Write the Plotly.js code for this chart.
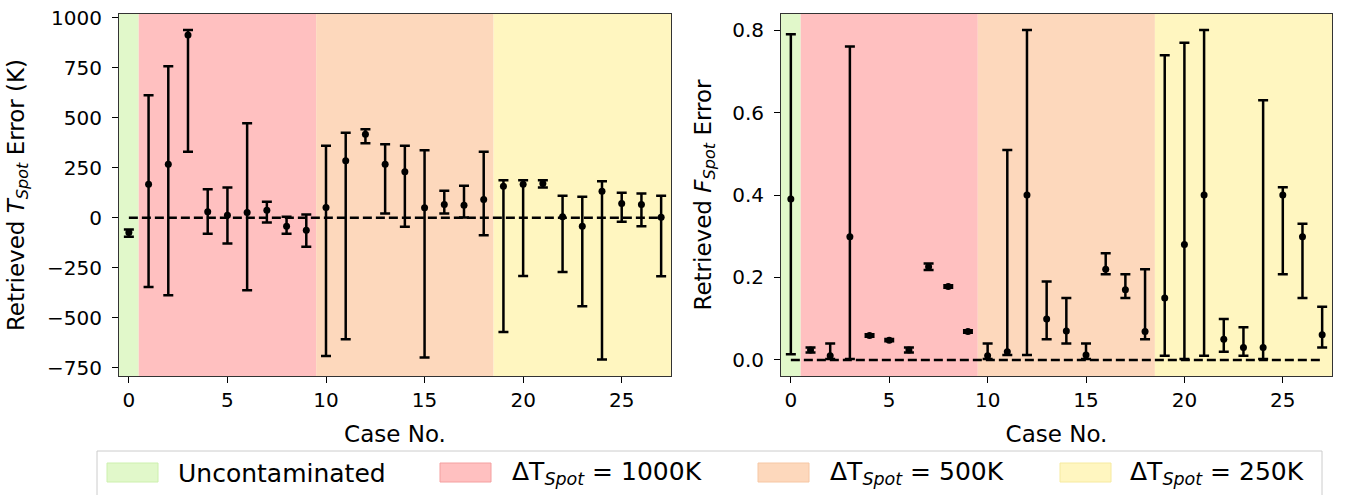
<!DOCTYPE html>
<html><head><meta charset="utf-8">
<script src="https://cdn.plot.ly/plotly-3.0.1.min.js"></script>
<style>html,body{margin:0;padding:0;background:#fff}</style>
</head><body>
<div id="chart" style="width:1345px;height:495px"></div>
<script>
// ---------- data ----------
const caseNo = [0,1,2,3,4,5,6,7,8,9,10,11,12,13,14,15,16,17,18,19,20,21,22,23,24,25,26,27];

// Retrieved T_Spot error (K): median and upper/lower bounds
const tSpotErr   = [-73, 168, 268, 913, 30, 13, 27, 38, -42, -62, 52, 285, 417, 267, 230, 50, 67, 63, 92, 158, 168, 172, 5, -42, 133, 72, 67, 3];
const tSpotUpper = [-58, 612, 757, 938, 143, 152, 472, 80, 5, 17, 360, 425, 442, 367, 360, 338, 135, 160, 330, 188, 188, 188, 110, 105, 183, 125, 122, 110];
const tSpotLower = [-95, -345, -387, 330, -80, -128, -362, -23, -80, -145, -690, -607, 372, 22, -45, -698, 22, 2, -87, -570, -290, 152, -270, -442, -708, -20, -42, -292];

// Retrieved F_Spot error: median and upper/lower bounds
const fSpotErr   = [0.390, 0.024, 0.010, 0.299, 0.059, 0.048, 0.024, 0.226, 0.178, 0.069, 0.010, 0.020, 0.400, 0.099, 0.070, 0.012, 0.220, 0.170, 0.069, 0.150, 0.280, 0.400, 0.050, 0.030, 0.030, 0.400, 0.299, 0.061];
const fSpotUpper = [0.790, 0.030, 0.040, 0.760, 0.062, 0.051, 0.030, 0.234, 0.181, 0.072, 0.040, 0.509, 0.800, 0.190, 0.150, 0.040, 0.259, 0.208, 0.220, 0.739, 0.769, 0.800, 0.099, 0.079, 0.630, 0.419, 0.330, 0.129];
const fSpotLower = [0.014, 0.018, 0.002, 0.002, 0.056, 0.045, 0.018, 0.218, 0.175, 0.066, 0.002, 0.012, 0.012, 0.050, 0.040, 0.002, 0.208, 0.150, 0.050, 0.010, 0.002, 0.010, 0.020, 0.010, 0.002, 0.208, 0.150, 0.030];

// Contamination regions
const regionNames = ['Uncontaminated', 'ΔT<sub><i>Spot</i></sub> = 1000K', 'ΔT<sub><i>Spot</i></sub> = 500K', 'ΔT<sub><i>Spot</i></sub> = 250K'];
const regionStart = [-0.5, 0.5, 9.5, 18.5];
const regionEnd   = [0.5, 9.5, 18.5, 27.5];
const regionFill  = ['#e1f8ca', '#ffc0c0', '#fdd8bc', '#fff6c0'];
const regionEdge  = ['#cdf0ae', '#f4a0a0', '#f6c7a4', '#f6eaa0'];

const zeroLineX = [0, 27];
const zeroLineY = [0, 0];

// ---------- helpers ----------
const FONT = 'DejaVu Sans, sans-serif';
const M = {l: 119, r: 13, t: 14, b: 119};
const W = 1345, H = 495;
const pw = W - M.l - M.r, ph = H - M.t - M.b;
const px = X => (X - M.l) / pw;
const py = Y => (H - M.b - Y) / ph;

function errTrace(vals, up, lo, xa, ya) {
  return {
    type: 'scatter', mode: 'markers', x: caseNo, y: vals, xaxis: xa, yaxis: ya,
    marker: {color: '#000', size: 7},
    error_y: {
      type: 'data', symmetric: false,
      array: up.map((u, i) => u - vals[i]),
      arrayminus: lo.map((l, i) => vals[i] - l),
      color: '#000', thickness: 2.5, width: 5
    },
    showlegend: false, hoverinfo: 'x+y'
  };
}
function zeroTrace(xa, ya) {
  return {type: 'scatter', mode: 'lines', x: zeroLineX, y: zeroLineY, xaxis: xa, yaxis: ya,
    line: {color: '#000', width: 2.5, dash: '9px,4px'}, showlegend: false, hoverinfo: 'skip'};
}

const data = [
  zeroTrace('x', 'y'), errTrace(tSpotErr, tSpotUpper, tSpotLower, 'x', 'y'),
  zeroTrace('x2', 'y2'), errTrace(fSpotErr, fSpotUpper, fSpotLower, 'x2', 'y2')
];

const shapes = [];
['x', 'x2'].forEach((xr, k) => {
  regionNames.forEach((n, i) => {
    shapes.push({type: 'rect', layer: 'below', xref: xr, yref: (k ? 'y2' : 'y') + ' domain',
      x0: regionStart[i], x1: regionEnd[i], y0: 0, y1: 1, fillcolor: regionFill[i], line: {width: 0}});
  });
});

// legend (manual, real text)
const legPatchX = [107, 440, 758, 1060];
const legTextX  = [176, 510, 828, 1128];
const annotations = [];
shapes.push({type: 'rect', xref: 'paper', yref: 'paper', x0: px(97), x1: px(1322), y0: py(451), y1: py(500),
  line: {color: '#cccccc', width: 1}, fillcolor: 'rgba(255,255,255,0.8)'});
regionNames.forEach((n, i) => {
  shapes.push({type: 'rect', xref: 'paper', yref: 'paper', x0: px(legPatchX[i]), x1: px(legPatchX[i] + 51),
    y0: py(482), y1: py(463), fillcolor: regionFill[i], line: {color: regionEdge[i], width: 1}});
  annotations.push({xref: 'paper', yref: 'paper', x: px(legTextX[i]), y: py(473), xanchor: 'left', yanchor: 'middle',
    text: n, showarrow: false, font: {family: FONT, size: 25, color: '#000'}});
});

const axBase = {
  showline: true, mirror: true, linecolor: '#333', linewidth: 1,
  ticks: 'outside', ticklen: 6, tickwidth: 1, tickcolor: '#000',
  showgrid: false, zeroline: false,
  tickfont: {family: FONT, size: 20, color: '#000'}
};
const xAxis = dom => Object.assign({}, axBase, {domain: dom, range: [-0.5, 27.5],
  tickvals: [0, 5, 10, 15, 20, 25],
  title: {text: 'Case No.', font: {family: FONT, size: 23, color: '#000'}, standoff: 14}});

const layout = {
  width: W, height: H, margin: M,
  paper_bgcolor: '#fff', plot_bgcolor: '#fff',
  font: {family: FONT, color: '#000'},
  xaxis: xAxis([0, px(671)]),
  xaxis2: Object.assign(xAxis([px(781), 1]), {anchor: 'y2'}),
  yaxis: Object.assign({}, axBase, {range: [-790, 1018], tickvals: [-750, -500, -250, 0, 250, 500, 750, 1000],
    ticklabelstandoff: 6,
    title: {text: 'Retrieved <i>T</i><sub><i>Spot</i></sub> Error (K)', font: {family: FONT, size: 23, color: '#000'}, standoff: 16}}),
  yaxis2: Object.assign({}, axBase, {anchor: 'x2', range: [-0.039, 0.839], tickvals: [0, 0.2, 0.4, 0.6, 0.8], tickformat: '.1f',
    ticklabelstandoff: 6,
    title: {text: 'Retrieved <i>F</i><sub><i>Spot</i></sub> Error', font: {family: FONT, size: 23, color: '#000'}, standoff: 14}}),
  shapes: shapes, annotations: annotations
};

Plotly.newPlot('chart', data, layout, {staticPlot: true});
</script>
</body></html>
